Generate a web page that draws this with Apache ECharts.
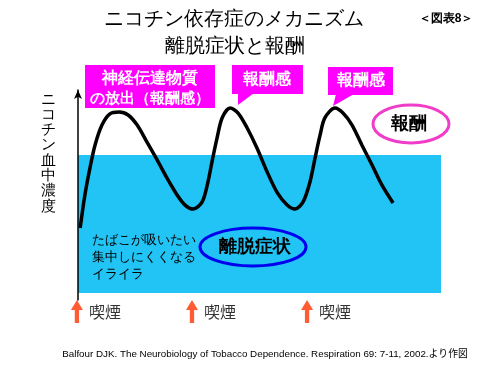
<!DOCTYPE html>
<html><head><meta charset="utf-8">
<script src="https://cdn.jsdelivr.net/npm/echarts@6/dist/echarts.min.js"></script>
<style>html,body{margin:0;padding:0;background:#fff}#c{width:500px;height:372px}</style>
</head><body><div id="c"></div>
<script>
// time axis (0-100) and nicotine blood concentration (0-100)
var curveT = [0.6,1.9,3.3,4.7,6.6,8.8,11.3,13.8,16.3,19.0,21.8,24.5,27.3,29.5,31.7,34.2,35.8,36.9,38.3,39.7,41.9,44.1,46.6,49.3,52.1,54.8,57.6,59.8,62.0,63.9,65.3,66.7,68.0,70.8,73.0,75.5,78.2,81.0,83.7,86.8];
var curveC = [34.3,50.0,62.9,73.8,83.3,88.6,89.5,88.1,83.3,75.2,66.7,58.1,50.0,45.2,43.3,46.7,56.2,65.7,77.1,86.7,91.4,89.0,81.9,72.4,61.0,51.4,45.2,43.3,46.7,56.2,67.6,78.6,86.7,91.4,89.0,83.3,73.8,64.3,54.8,46.2];
// withdrawal band (concentration range)
var bandLow = 3.3, bandHigh = 69;
var bandStart = 0, bandEnd = 100;
// smoking times
var smokeTimes = [-0.3, 31.4, 63.1];
var smokeLabel = '喫煙';
var titleLines = ['ニコチン依存症のメカニズム', '離脱症状と報酬'];
var yName = 'ニコチン血中濃度';

var JP = '"Noto Sans CJK JP", sans-serif';
var chart = echarts.init(document.getElementById('c'));
var curve = curveT.map(function (t, i) { return [t, curveC[i]]; });
var smokeData = smokeTimes.map(function (t) { return [t, -5.5]; });

var magenta = '#FF00FF';
function box(x, y, w, h) { return {type:'rect', shape:{x:x,y:y,width:w,height:h}, style:{fill:magenta}, z:10}; }
function tri(pts) { return {type:'polygon', shape:{points:pts}, style:{fill:magenta}, z:10}; }
function txt(x, y, s, size, weight, color, align) {
  return {type:'text', x:x, y:y, z:11, style:{text:s, fontSize:size, fontWeight:weight||'normal', fill:color||'#000', font:(weight||'normal')+' '+size+'px '+JP, align:align||'center', verticalAlign:'middle'}};
}

chart.setOption({
  animation:false,
  grid:{left:78, right:59, top:90, bottom:72},
  xAxis:{type:'value', min:0, max:100, show:false},
  yAxis:{type:'value', min:0, max:100, z:5,
    axisLine:{show:true, lineStyle:{color:'#000', width:1.5}, symbol:['none','arrow'], symbolSize:[6,9]},
    axisTick:{show:false}, axisLabel:{show:false}, splitLine:{show:false}},
  series:[
    {type:'line', data:[], z:1, silent:true,
      markArea:{silent:true, itemStyle:{color:'#21C4F4', opacity:1},
        data:[[{xAxis:bandStart, yAxis:bandLow},{xAxis:bandEnd, yAxis:bandHigh}]]}},
    {type:'line', data:curve, smooth:0.3, symbol:'none', z:3,
      lineStyle:{color:'#000', width:3.5}},
    {type:'scatter', data:smokeData, clip:false, z:4,
      symbol:'path://M7,0 L14,10 L9.5,10 L9.5,23 L4.5,23 L4.5,10 L0,10 Z',
      symbolSize:[12,23], itemStyle:{color:'#FF3300'},
      label:{show:true, position:'right', distance:6, formatter:smokeLabel,
        fontSize:16, color:'#000', fontFamily:JP}}
  ],
  graphic:[
    txt(234, 19, titleLines[0], 20),
    txt(235, 46, titleLines[1], 20),
    txt(446, 19, '＜図表8＞', 12, 'bold'),
    {type:'text', x:48.5, y:153, z:11, style:{text:yName.split('').join('\n'), fontSize:15, lineHeight:15.3, font:'bold 15px '+JP, fill:'#000', align:'center', verticalAlign:'middle'}},
    box(85, 65, 130, 43),
    txt(150, 79, '神経伝達物質', 16, 'bold', '#fff'),
    txt(150, 99, 'の放出（報酬感）', 15, 'bold', '#fff'),
    box(232, 65, 71, 29),
    tri([[238,93],[254,93],[238,105]]),
    txt(267, 80, '報酬感', 16, 'bold', '#fff'),
    box(328, 67, 65, 28),
    tri([[336,94],[354,94],[333,106]]),
    txt(361, 81, '報酬感', 16, 'bold', '#fff'),
    {type:'ellipse', shape:{cx:411, cy:124, rx:38, ry:19}, style:{fill:'#fff', stroke:'#F03CC8', lineWidth:3}, z:10},
    txt(409, 124, '報酬', 18, 'bold'),
    {type:'ellipse', shape:{cx:253, cy:247, rx:53, ry:19}, style:{fill:'none', stroke:'#0000EE', lineWidth:3}, z:10},
    txt(255, 247, '離脱症状', 18, 'bold'),
    txt(92, 240, 'たばこが吸いたい', 13, 'normal', '#000', 'left'),
    txt(92, 257, '集中しにくくなる', 13, 'normal', '#000', 'left'),
    txt(92, 274, 'イライラ', 13, 'normal', '#000', 'left'),
    {type:'text', x:265, y:354, z:11, style:{text:'Balfour DJK. The Neurobiology of Tobacco Dependence. Respiration 69: 7-11, 2002.より作図', font:'9.8px "Liberation Sans", "Noto Sans CJK JP", sans-serif', fill:'#000', align:'center', verticalAlign:'middle'}}
  ]
});
</script></body></html>
